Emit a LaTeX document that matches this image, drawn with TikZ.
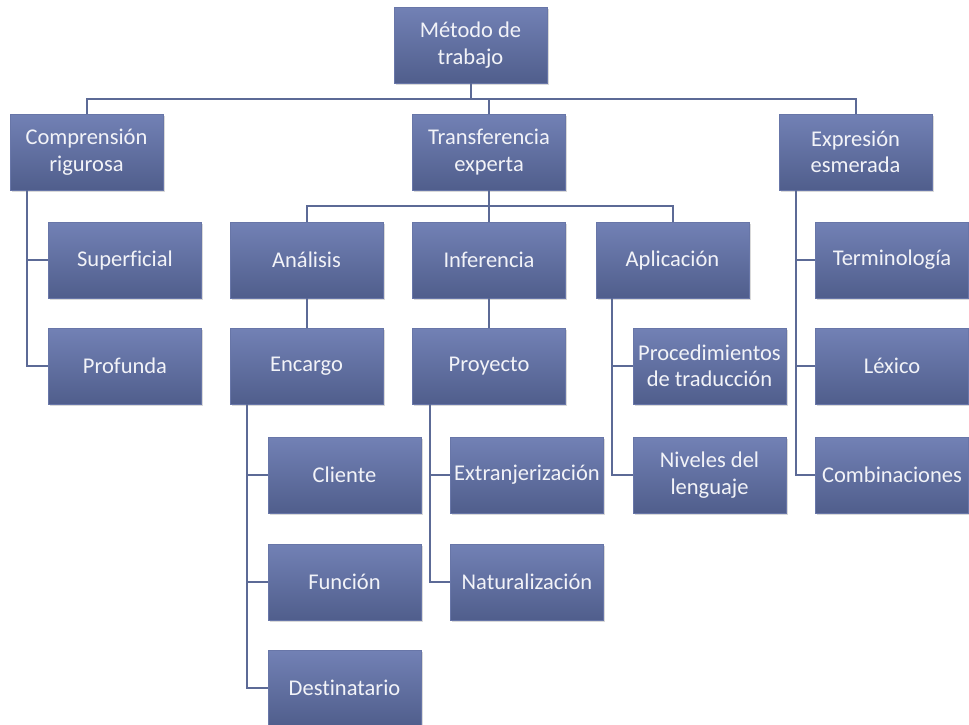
\documentclass[tikz,border=0pt]{standalone}
\usepackage{fontspec}
\setmainfont[Ligatures=NoCommon]{Carlito}
\usepackage{tikz}
\usetikzlibrary{shadows}
\definecolor{boxtop}{RGB}{114,129,181}
\definecolor{boxbot}{RGB}{80,94,140}
\definecolor{boxedge}{RGB}{104,118,168}
\definecolor{linkcol}{RGB}{92,106,150}
\definecolor{boxtext}{RGB}{242,243,248}
\begin{document}
\begin{tikzpicture}[x=1pt, y=-1pt,
      box/.style={rectangle,draw=boxedge,line width=0.6pt,top color=boxtop,bottom color=boxbot,
        minimum width=153pt,minimum height=76pt,inner xsep=1pt,align=center,text=boxtext,
        font=\fontsize{22.5}{26.5}\selectfont,
        drop shadow={opacity=0.3,shadow xshift=1.5pt,shadow yshift=-2pt}},
      link/.style={draw=linkcol,line width=2pt}]
      \useasboundingbox (0,0) rectangle (969,724);
      % top level
      \node[box] at (470.5,45)  (metodo) {Método de\\trabajo};
      \node[box] at (86.5,152)  (comp) {Comprensión\\rigurosa};
      \node[box] at (489,152)   (trans) {Transferencia\\experta};
      \node[box] at (855.5,152) (expr) {Expresión\\esmerada};
      % comprension
      \node[box] at (125,260) (supe) {Superficial};
      \node[box] at (125,366) (prof) {Profunda};
      % transferencia
      \node[box] at (306.5,260) (anal) {Análisis};
      \node[box] at (489,260)   (infe) {Inferencia};
      \node[box] at (672.5,260) (apli) {Aplicación};
      \node[box] at (306.5,366) (encargo) {Encargo};
      \node[box] at (489,366)   (proyecto) {Proyecto};
      \node[box] at (709.5,366) (proced) {Procedimientos\\de traducción};
      \node[box] at (709.5,475) (niveles) {Niveles del\\lenguaje};
      \node[box] at (344.5,475) (cliente) {Cliente};
      \node[box] at (344.5,582) (funcion) {Función};
      \node[box] at (344.5,688) (destin) {Destinatario};
      \node[box] at (527,475)   (extran) {Extranjerización};
      \node[box] at (527,582)   (natur) {Naturalización};
      % expresion
      \node[box] at (892,260) (termi) {Terminología};
      \node[box] at (892,366) (lexico) {Léxico};
      \node[box] at (892,475) (combi) {Combinaciones};
      % connectors
      \coordinate (busA) at (0,99);
      \coordinate (busB) at (0,206);
      \draw[link] (metodo.south) -- (metodo.south |- busA);
      \draw[link] (comp.north) |- (expr.north |- busA) -- (expr.north);
      \draw[link] (trans.north) -- (trans.north |- busA);
      \draw[link] (anal.north) |- (apli.north |- busB) -- (apli.north);
      \draw[link] (trans.south) -- (infe.north);
      \draw[link] (anal.south) -- (encargo.north);
      \draw[link] (infe.south) -- (proyecto.north);
      \draw[link] ([xshift=17pt]comp.south west) |- (supe.west);
      \draw[link] ([xshift=17pt]comp.south west) |- (prof.west);
      \draw[link] ([xshift=17pt]encargo.south west) |- (cliente.west);
      \draw[link] ([xshift=17pt]encargo.south west) |- (funcion.west);
      \draw[link] ([xshift=17pt]encargo.south west) |- (destin.west);
      \draw[link] ([xshift=18pt]proyecto.south west) |- (extran.west);
      \draw[link] ([xshift=18pt]proyecto.south west) |- (natur.west);
      \draw[link] ([xshift=16pt]apli.south west) |- (proced.west);
      \draw[link] ([xshift=16pt]apli.south west) |- (niveles.west);
      \draw[link] ([xshift=17pt]expr.south west) |- (termi.west);
      \draw[link] ([xshift=17pt]expr.south west) |- (lexico.west);
      \draw[link] ([xshift=17pt]expr.south west) |- (combi.west);
    \end{tikzpicture}
\end{document}
